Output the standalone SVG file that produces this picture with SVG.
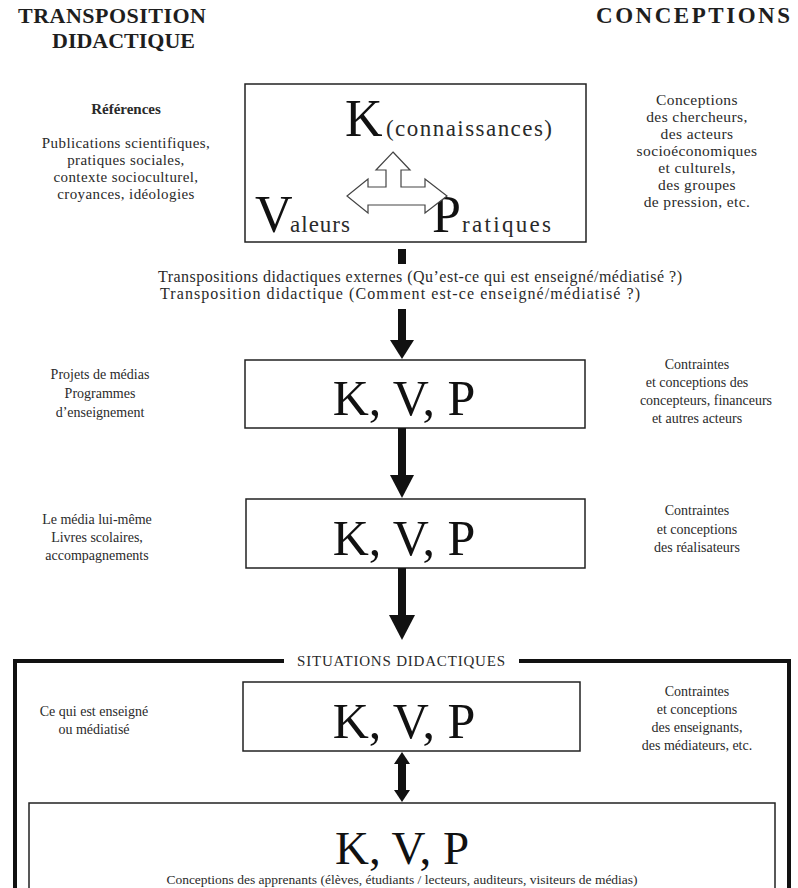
<svg xmlns="http://www.w3.org/2000/svg" width="798" height="888" viewBox="0 0 798 888" font-family="'Liberation Serif', 'Times New Roman', serif">
<style>
text{font-family:'Liberation Serif','Times New Roman',serif;fill:#2a2a2a}
.hd{font-size:22px;font-weight:bold;fill:#1e1e1e}
.sm{font-size:14px;text-anchor:middle}
.md{font-size:15px;text-anchor:middle;letter-spacing:0.4px}
.big{font-size:50px;text-anchor:middle;fill:#111}
.box{fill:#fff;stroke:#222;stroke-width:1.5}
.ar{fill:#111;stroke:none}
</style>
<rect width="798" height="888" fill="#fff"/>
<g id="headers">
<text class="hd" x="18" y="23" textLength="188" lengthAdjust="spacing">TRANSPOSITION</text>
<text class="hd" x="52" y="48">DIDACTIQUE</text>
<text class="hd" x="596" y="23" style="font-size:23px" textLength="194" lengthAdjust="spacing">CONCEPTIONS</text>
</g>
<g id="node-top">
<rect class="box" x="245" y="84" width="341" height="158"/>
<text x="345" y="136" style="font-size:52px;fill:#111">K</text>
<text x="386" y="136" style="font-size:23px" textLength="166" lengthAdjust="spacing">(connaissances)</text>
<text x="255" y="232" style="font-size:52px;fill:#111">V</text>
<text x="290" y="232" style="font-size:23px" textLength="60" lengthAdjust="spacing">aleurs</text>
<text x="432" y="232" style="font-size:52px;fill:#111">P</text>
<text x="462" y="232" style="font-size:23px" textLength="89" lengthAdjust="spacing">ratiques</text>
<polygon points="393,152 410,170 401,170 401,187 425,187 425,179 447,196 425,213 425,205 368,205 368,213 347,196 368,179 368,187 386,187 386,170 376,170" fill="#fff" stroke="#444" stroke-width="1.2"/>
</g>
<g id="refs-left">
<text class="md" x="126" y="114" style="font-weight:bold;letter-spacing:0">Références</text>
<text class="md" x="126" y="148">Publications scientifiques,</text>
<text class="md" x="126" y="165">pratiques sociales,</text>
<text class="md" x="126" y="182">contexte socioculturel,</text>
<text class="md" x="126" y="199">croyances, idéologies</text>
</g>
<g id="concept-right-1">
<text class="md" x="697" y="105" style="font-size:15.5px">Conceptions</text>
<text class="md" x="697" y="122" style="font-size:15.5px">des chercheurs,</text>
<text class="md" x="697" y="139" style="font-size:15.5px">des acteurs</text>
<text class="md" x="697" y="156" style="font-size:15.5px">socioéconomiques</text>
<text class="md" x="697" y="173" style="font-size:15.5px">et culturels,</text>
<text class="md" x="697" y="190" style="font-size:15.5px">des groupes</text>
<text class="md" x="697" y="207" style="font-size:15.5px">de pression, etc.</text>
</g>
<g id="transposition-label">
<text class="md" x="420" y="282" style="font-size:16px;letter-spacing:0" textLength="524" lengthAdjust="spacing">Transpositions didactiques externes (Qu’est-ce qui est enseigné/médiatisé ?)</text>
<text class="md" x="400" y="299" style="font-size:16px;letter-spacing:0" textLength="480" lengthAdjust="spacing">Transposition didactique (Comment est-ce enseigné/médiatisé ?)</text>
</g>
<g id="node-2">
<rect class="box" x="245" y="360" width="340" height="68"/>
<text class="big" x="404" y="415">K, V, P</text>
<text class="sm" x="100" y="379">Projets de médias</text>
<text class="sm" x="100" y="398">Programmes</text>
<text class="sm" x="100" y="417">d’enseignement</text>
<text class="sm" x="697" y="369">Contraintes</text>
<text class="sm" x="697" y="387">et conceptions des</text>
<text class="sm" x="706" y="405">concepteurs, financeurs</text>
<text class="sm" x="697" y="423">et autres acteurs</text>
</g>
<g id="node-3">
<rect class="box" x="246" y="499" width="339" height="69"/>
<text class="big" x="404" y="555">K, V, P</text>
<text class="sm" x="97" y="524">Le média lui-même</text>
<text class="sm" x="97" y="542">Livres scolaires,</text>
<text class="sm" x="97" y="560">accompagnements</text>
<text class="sm" x="697" y="515">Contraintes</text>
<text class="sm" x="697" y="534">et conceptions</text>
<text class="sm" x="697" y="552">des réalisateurs</text>
</g>
<g id="situations">
<path d="M15,888 V661 H284 M519,661 H789 V888" fill="none" stroke="#111" stroke-width="4"/>
<text x="401" y="666" style="font-size:15px;text-anchor:middle" textLength="208" lengthAdjust="spacing">SITUATIONS DIDACTIQUES</text>
</g>
<g id="node-4">
<rect class="box" x="243" y="682" width="337" height="69"/>
<text class="big" x="404" y="738">K, V, P</text>
<text class="sm" x="94" y="716">Ce qui est enseigné</text>
<text class="sm" x="94" y="734">ou médiatisé</text>
<text class="sm" x="697" y="696">Contraintes</text>
<text class="sm" x="697" y="714">et conceptions</text>
<text class="sm" x="697" y="732">des enseignants,</text>
<text class="sm" x="697" y="750">des médiateurs, etc.</text>
</g>
<g id="node-5">
<rect class="box" x="29" y="803" width="746" height="100"/>
<text class="big" x="402" y="864" style="font-size:47px">K, V, P</text>
<text class="sm" x="402" y="884" style="font-size:13.5px">Conceptions des apprenants (élèves, étudiants / lecteurs, auditeurs, visiteurs de médias)</text>
</g>
<g id="connectors">
<rect class="ar" x="398" y="249" width="8" height="15"/>
<rect class="ar" x="398" y="309" width="8" height="32"/>
<polygon class="ar" points="390,340 414,340 402,359"/>
<rect class="ar" x="398" y="428" width="8" height="48"/>
<polygon class="ar" points="390,475 414,475 402,498"/>
<rect class="ar" x="398" y="568" width="8" height="48"/>
<polygon class="ar" points="389,615 415,615 402,640"/>
<rect class="ar" x="398" y="762" width="8" height="30"/>
<polygon class="ar" points="402,752 394,764 410,764"/>
<polygon class="ar" points="402,802 394,790 410,790"/>
</g>
</svg>
